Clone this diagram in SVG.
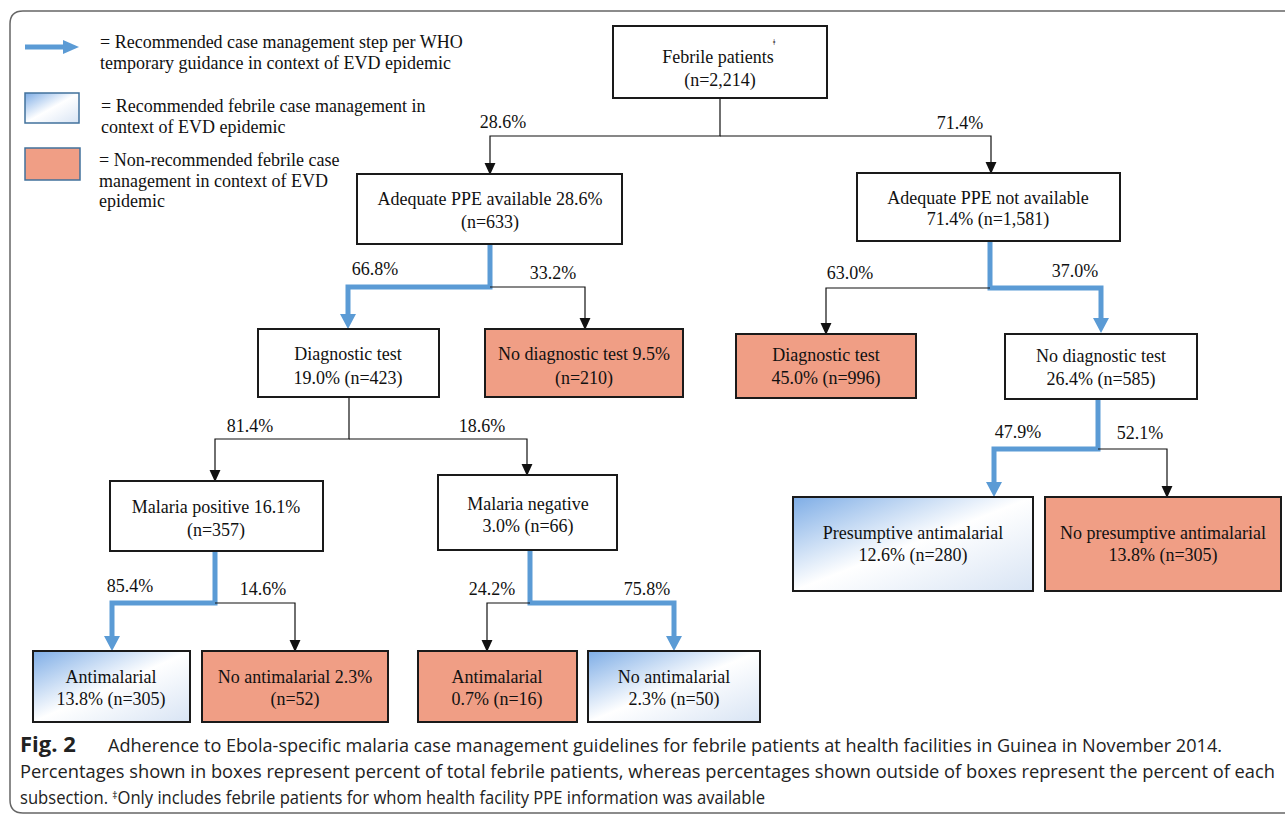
<svg xmlns="http://www.w3.org/2000/svg" width="1285" height="818" viewBox="0 0 1285 818">
<style>
.t{font-family:"Liberation Serif","Times New Roman",serif;font-size:18px;fill:#111;}
.m{text-anchor:middle;}
.box{fill:#fff;stroke:#1a1a1a;stroke-width:2;}
.rec{fill:url(#grad);stroke:#1a1a1a;stroke-width:2;}
.non{fill:#F09E85;stroke:#1a1a1a;stroke-width:2;}
.thin{fill:none;stroke:#111;stroke-width:1.2;marker-end:url(#ah);}
.blue{fill:none;stroke:#5B9BD5;stroke-width:5;stroke-linejoin:miter;marker-end:url(#bh);}
.cap{font-family:"Open Sans","Noto Sans",sans-serif;font-size:18px;fill:#222;}
</style>
<defs>
<linearGradient id="grad" x1="0" y1="0" x2="1" y2="1">
<stop offset="0" stop-color="#7EADE6"/>
<stop offset="0.5" stop-color="#FFFFFF"/>
<stop offset="1" stop-color="#D8E4F4"/>
</linearGradient>
<marker id="ah" markerUnits="userSpaceOnUse" markerWidth="12" markerHeight="12" viewBox="0 0 11 10" refX="0" refY="5" orient="auto">
<path d="M0,0 L11,5 L0,10 z" fill="#111"/>
</marker>
<marker id="bh" markerUnits="userSpaceOnUse" markerWidth="16" markerHeight="16" viewBox="0 0 15 16" refX="0" refY="8" orient="auto">
<path d="M0,0 L15,8 L0,16 z" fill="#5B9BD5"/>
</marker>
</defs>
<rect width="1285" height="818" fill="#fff"/>
<path d="M1285,11 H23 Q10,11 10,24 V800 Q10,813 23,813 H1285" fill="none" stroke="#666" stroke-width="1.5"/>

<g id="legend">
<path d="M25,47 H64" stroke="#5B9BD5" stroke-width="5" fill="none"/>
<path d="M63,40 L79,47 L63,54 z" fill="#5B9BD5"/>
<text class="t" x="100" y="48">= Recommended case management step per WHO</text>
<text class="t" x="100" y="69">temporary guidance in context of EVD epidemic</text>
<rect x="25" y="93" width="54" height="30" fill="url(#grad)" stroke="#41719C" stroke-width="1.5"/>
<text class="t" x="101" y="112">= Recommended febrile case management in</text>
<text class="t" x="101" y="133">context of EVD epidemic</text>
<rect x="25" y="148" width="55" height="32" fill="#F09E85" stroke="#41719C" stroke-width="1.5"/>
<text class="t" x="99" y="166">= Non-recommended febrile case</text>
<text class="t" x="99" y="187">management in context of EVD</text>
<text class="t" x="99" y="207">epidemic</text>
</g>

<g id="connectors">
<path class="thin" d="M720,98 V136 H490 V163"/>
<path class="thin" d="M720,136 H991 V162"/>
<path class="blue" d="M490,244 V287 H348 V314"/>
<path class="thin" d="M490,287 H585 V318"/>
<path class="blue" d="M990,241 V288 H1101 V318"/>
<path class="thin" d="M990,288 H826 V323"/>
<path class="thin" d="M349,397 V439 H215 V470"/>
<path class="thin" d="M349,439 H527 V464"/>
<path class="blue" d="M215,551 V603 H112 V636"/>
<path class="thin" d="M215,603 H295 V640"/>
<path class="blue" d="M530,550 V603 H674 V636"/>
<path class="thin" d="M530,603 H487 V640"/>
<path class="blue" d="M1098,399 V449 H994 V482"/>
<path class="thin" d="M1098,449 H1167 V486"/>
<text class="t m" x="503" y="128">28.6%</text>
<text class="t m" x="960" y="129">71.4%</text>
<text class="t m" x="375" y="275">66.8%</text>
<text class="t m" x="553" y="279">33.2%</text>
<text class="t m" x="850" y="279">63.0%</text>
<text class="t m" x="1075" y="277">37.0%</text>
<text class="t m" x="250" y="432">81.4%</text>
<text class="t m" x="482" y="432">18.6%</text>
<text class="t m" x="1018" y="438">47.9%</text>
<text class="t m" x="1140" y="439">52.1%</text>
<text class="t m" x="130" y="592">85.4%</text>
<text class="t m" x="263" y="595">14.6%</text>
<text class="t m" x="492" y="595">24.2%</text>
<text class="t m" x="647" y="595">75.8%</text>
</g>

<g id="n_febrile">
<rect class="box" x="613" y="26" width="214" height="72"/>
<text class="t m" x="718" y="63">Febrile patients</text>
<text class="t" x="773" y="45" style="font-size:9px">ǂ</text>
<text class="t m" x="720" y="86">(n=2,214)</text>
</g>
<g id="n_ppe_avail">
<rect class="box" x="357" y="174" width="265" height="70"/>
<text class="t m" x="490" y="205">Adequate PPE available 28.6%</text>
<text class="t m" x="490" y="228">(n=633)</text>
</g>
<g id="n_ppe_not">
<rect class="box" x="857" y="173" width="263" height="68"/>
<text class="t m" x="988" y="204">Adequate PPE not available</text>
<text class="t m" x="988" y="225">71.4% (n=1,581)</text>
</g>
<g id="n_diag_test">
<rect class="box" x="258" y="329" width="181" height="68"/>
<text class="t m" x="348" y="360">Diagnostic test</text>
<text class="t m" x="348" y="384">19.0% (n=423)</text>
</g>
<g id="n_no_diag_95">
<rect class="non" x="485" y="329" width="198" height="68"/>
<text class="t m" x="584" y="360">No diagnostic test 9.5%</text>
<text class="t m" x="584" y="384">(n=210)</text>
</g>
<g id="n_diag_45">
<rect class="non" x="736" y="334" width="180" height="64"/>
<text class="t m" x="826" y="361">Diagnostic test</text>
<text class="t m" x="826" y="384">45.0% (n=996)</text>
</g>
<g id="n_no_diag_26">
<rect class="box" x="1005" y="334" width="192" height="65"/>
<text class="t m" x="1101" y="362">No diagnostic test</text>
<text class="t m" x="1101" y="385">26.4% (n=585)</text>
</g>
<g id="n_mal_pos">
<rect class="box" x="110" y="481" width="213" height="70"/>
<text class="t m" x="216" y="513">Malaria positive 16.1%</text>
<text class="t m" x="216" y="536">(n=357)</text>
</g>
<g id="n_mal_neg">
<rect class="box" x="438" y="475" width="179" height="75"/>
<text class="t m" x="528" y="510">Malaria negative</text>
<text class="t m" x="528" y="532">3.0% (n=66)</text>
</g>
<g id="n_antimal_1">
<rect class="rec" x="33" y="651" width="157" height="71"/>
<text class="t m" x="111" y="683">Antimalarial</text>
<text class="t m" x="111" y="705">13.8% (n=305)</text>
</g>
<g id="n_noantimal_1">
<rect class="non" x="202" y="651" width="186" height="71"/>
<text class="t m" x="295" y="683">No antimalarial 2.3%</text>
<text class="t m" x="295" y="705">(n=52)</text>
</g>
<g id="n_antimal_2">
<rect class="non" x="418" y="651" width="159" height="71"/>
<text class="t m" x="497" y="683">Antimalarial</text>
<text class="t m" x="497" y="705">0.7% (n=16)</text>
</g>
<g id="n_noantimal_2">
<rect class="rec" x="588" y="651" width="172" height="71"/>
<text class="t m" x="674" y="683">No antimalarial</text>
<text class="t m" x="674" y="705">2.3% (n=50)</text>
</g>
<g id="n_presumptive">
<rect class="rec" x="793" y="497" width="240" height="94"/>
<text class="t m" x="913" y="539">Presumptive antimalarial</text>
<text class="t m" x="913" y="561">12.6% (n=280)</text>
</g>
<g id="n_nopresumptive">
<rect class="non" x="1045" y="497" width="236" height="94"/>
<text class="t m" x="1163" y="539">No presumptive antimalarial</text>
<text class="t m" x="1163" y="561">13.8% (n=305)</text>
</g>

<g id="caption">
<text class="cap" x="20" y="752" style="font-weight:bold;font-size:22px">Fig. 2</text>
<text class="cap" x="108" y="752" textLength="1114" lengthAdjust="spacingAndGlyphs">Adherence to Ebola-specific malaria case management guidelines for febrile patients at health facilities in Guinea in November 2014.</text>
<text class="cap" x="20" y="778" textLength="1255" lengthAdjust="spacingAndGlyphs">Percentages shown in boxes represent percent of total febrile patients, whereas percentages shown outside of boxes represent the percent of each</text>
<text class="cap" x="20" y="804" textLength="745" lengthAdjust="spacingAndGlyphs">subsection. <tspan dy="-5" style="font-size:11px">‡</tspan><tspan dy="5">Only includes febrile patients for whom health facility PPE information was available</tspan></text>
</g>
</svg>
